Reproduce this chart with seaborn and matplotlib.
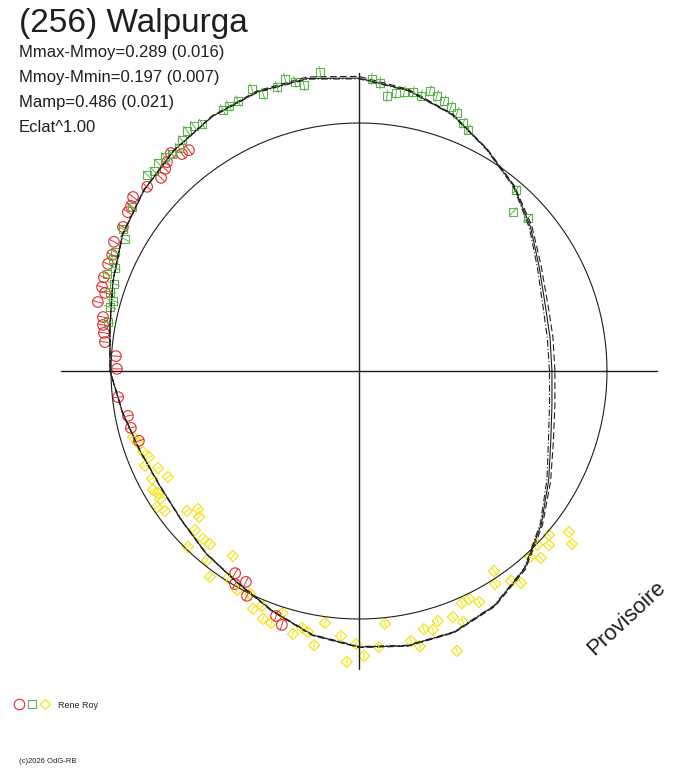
import numpy as np
import pandas as pd
import matplotlib
matplotlib.use('Agg')
import matplotlib.pyplot as plt
import seaborn as sns
from matplotlib.lines import Line2D
from matplotlib.legend_handler import HandlerTuple
from matplotlib.collections import LineCollection

# --- data : rotational phase (deg on the diagram) and relative flux (1 = mean) ---
fit_phase = list(range(0, 360, 10))
fit_solid = [0.778, 0.782, 0.798, 0.839, 0.903, 0.972, 1.032, 1.101, 1.149, 1.181, 1.198, 1.198,
             1.185, 1.161, 1.133, 1.101, 1.056, 1.020, 1.004, 0.968, 0.940, 0.927, 0.935, 0.960,
             0.984, 1.028, 1.081, 1.113, 1.125, 1.121, 1.093, 1.040, 0.960, 0.883, 0.823, 0.790]
fit_dashed = [0.790, 0.794, 0.809, 0.848, 0.910, 0.975, 1.034, 1.103, 1.153, 1.188, 1.204, 1.202,
              1.187, 1.162, 1.134, 1.102, 1.057, 1.021, 1.004, 0.969, 0.941, 0.928, 0.936, 0.961,
              0.985, 1.030, 1.083, 1.115, 1.127, 1.123, 1.096, 1.044, 0.966, 0.892, 0.834, 0.802]
fit_dashdot = [0.768, 0.771, 0.788, 0.831, 0.897, 0.969, 1.030, 1.099, 1.147, 1.178, 1.195, 1.196,
               1.184, 1.160, 1.132, 1.100, 1.055, 1.019, 1.003, 0.967, 0.939, 0.926, 0.934, 0.959,
               0.983, 1.027, 1.079, 1.111, 1.123, 1.119, 1.091, 1.037, 0.955, 0.875, 0.813, 0.780]

red_phase = [127.6, 129.2, 130.8, 132.6, 133.8, 135.7, 139.0, 142.4, 144.1, 145.5, 148.6, 152.2,
             154.8, 156.9, 159.8, 161.9, 162.9, 165.2, 168.1, 169.8, 171.5, 173.5, 176.5, 179.5,
             186.2, 191.0, 194.0, 197.6, 238.5, 239.8, 241.8, 243.5, 251.3, 253.1]
red_flux = [1.124, 1.129, 1.161, 1.144, 1.129, 1.115, 1.132, 1.150, 1.135, 1.131, 1.115, 1.117,
            1.100, 1.100, 1.096, 1.090, 1.071, 1.089, 1.055, 1.049, 1.040, 1.031, 0.982, 0.976,
            0.977, 0.949, 0.948, 0.931, 0.956, 0.994, 0.965, 1.013, 1.043, 1.070]

green_phase = [137.2, 135.7, 134.0, 132.2, 130.8, 128.9, 127.5, 125.6, 124.0, 122.4, 117.5, 116.1,
               114.1, 110.8, 109.1, 106.1, 104.2, 102.5, 100.9, 97.4, 144.2, 149.0, 150.6, 154.0,
               155.5, 157.1, 159.0, 160.4, 162.4, 164.1, 165.6, 169.0, 87.5, 85.8, 84.2, 82.4,
               80.8, 79.0, 77.3, 75.8, 74.2, 72.5, 70.8, 69.2, 67.2, 65.7, 49.1, 45.9, 42.2]
green_flux = [1.164, 1.155, 1.166, 1.165, 1.155, 1.156, 1.173, 1.191, 1.191, 1.180, 1.187, 1.190,
              1.193, 1.216, 1.182, 1.192, 1.215, 1.194, 1.174, 1.216, 1.129, 1.111, 1.083, 1.095,
              1.090, 1.068, 1.089, 1.048, 1.053, 1.031, 1.037, 1.031, 1.179, 1.164, 1.115, 1.131,
              1.140, 1.146, 1.137, 1.165, 1.153, 1.141, 1.127, 1.113, 1.084, 1.067, 0.966, 0.893, 0.919]

yellow_phase = [196.3, 200.6, 202.3, 203.9, 205.8, 209.0, 207.5, 210.0, 211.3, 212.7, 214.0, 215.8,
                219.1, 220.6, 222.4, 224.1, 227.1, 229.3, 225.8, 231.2, 235.7, 234.1, 237.7, 240.9,
                244.0, 246.0, 247.6, 248.8, 250.8, 252.4, 255.9, 257.5, 258.9, 260.7, 262.3, 266.1,
                267.6, 269.4, 271.0, 274.1, 275.9, 280.9, 282.5, 284.1, 285.9, 287.5, 290.9, 292.5,
                289.3, 293.9, 295.8, 297.5, 304.0, 302.6, 305.9, 307.4, 312.6, 314.2, 315.7, 319.2,
                317.5, 322.5, 320.9, 198.0]
yellow_flux = [0.949, 0.930, 0.915, 0.944, 0.900, 0.881, 0.941, 0.959, 0.948, 0.954, 0.982, 0.965,
               0.894, 0.855, 0.873, 0.921, 0.924, 0.921, 0.990, 0.978, 0.903, 1.025, 0.988, 1.011,
               1.001, 1.050, 1.025, 1.072, 1.076, 1.024, 1.093, 1.061, 1.072, 1.120, 1.025, 1.071,
               1.174, 1.101, 1.149, 1.116, 1.025, 1.109, 1.136, 1.073, 1.086, 1.057, 1.062, 1.096,
               1.196, 1.024, 1.021, 1.050, 0.973, 1.019, 1.045, 1.076, 1.019, 1.052, 1.004, 1.012,
               1.039, 1.067, 1.106, 0.937]

title = '(256) Walpurga'
stats_lines = ['Mmax-Mmoy=0.289 (0.016)', 'Mmoy-Mmin=0.197 (0.007)', 'Mamp=0.486 (0.021)', 'Eclat^1.00']
observer = 'Rene Roy'
copyright_txt = '(c)2026 OdG-RB'
stamp = 'Provisoire'

sns.set_theme(style='white')
plt.rcParams['font.family'] = ['Liberation Sans', 'DejaVu Sans']

RED, GREEN, YELLOW, INK = '#e42a2a', '#5cb548', '#f2e200', '#1e1e1e'


def to_xy(phase, flux):
    t = np.deg2rad(np.asarray(phase, dtype=float))
    r = np.asarray(flux, dtype=float)
    return r * np.cos(t), r * np.sin(t)


def session_df(phase, flux):
    x, y = to_xy(phase, flux)
    return pd.DataFrame({'phase': phase, 'flux': flux, 'x': x, 'y': y})


fig = plt.figure(figsize=(6.88, 7.68), dpi=100)
ax = fig.add_axes([0, 0, 1, 1])
ax.set_xlim(-359 / 248, 329 / 248)
ax.set_ylim(-397 / 248, 371 / 248)
ax.set_aspect('equal')
ax.axis('off')

# reference circle (mean flux) and the two axes
circ = np.linspace(0, 360, 361)
cx, cy = to_xy(circ, np.ones_like(circ))
ax.plot(cx, cy, color=INK, lw=0.8)
ax.plot([-1.2, 1.2], [0, 0], color=INK, lw=1.0)
ax.plot([0, 0], [-1.2, 1.2], color=INK, lw=1.0)

# model curves
for vals, ls in [(fit_solid, '-'), (fit_dashed, (0, (6, 3))), (fit_dashdot, (0, (6, 2, 1, 2)))]:
    fx, fy = to_xy(fit_phase + [360], vals + [vals[0]])
    sns.lineplot(x=fx, y=fy, sort=False, color=INK, lw=0.8, linestyle=ls, ax=ax, estimator=None)


def radial_bars(df, half, color):
    t = np.deg2rad(df['phase'].values)
    r0 = df['flux'].values - half
    r1 = df['flux'].values + half
    segs = [[(a * np.cos(tt), a * np.sin(tt)), (b * np.cos(tt), b * np.sin(tt))]
            for tt, a, b in zip(t, r0, r1)]
    ax.add_collection(LineCollection(segs, colors=color, linewidths=0.7))


sessions = [
    (session_df(yellow_phase, yellow_flux), YELLOW, 'D', 32, 0.014),
    (session_df(red_phase, red_flux), RED, 'o', 58, 0.022),
    (session_df(green_phase, green_flux), GREEN, 's', 32, 0.024),
]
for df, col, mk, size, eb in sessions:
    radial_bars(df, eb, col)
    sns.scatterplot(data=df, x='x', y='y', marker=mk, s=size, color=col,
                    facecolor='none', edgecolor=col, linewidth=0.8, ax=ax, legend=False)

# texts
fig.text(19 / 688, 1 - 32 / 768, title, fontsize=24, color=INK, va='baseline')
for i, line in enumerate(stats_lines):
    fig.text(19 / 688, 1 - (57.5 + 24.7 * i) / 768, line, fontsize=12, color=INK, va='baseline')
fig.text(626 / 688, 1 - 618 / 768, stamp, fontsize=16, rotation=43, color=INK,
         ha='center', va='center')
fig.text(19 / 688, 1 - 763 / 768, copyright_txt, fontsize=5.5, color=INK, va='baseline')

h_red = Line2D([], [], marker='o', ls='none', mfc='none', mec=RED, ms=7.6, mew=0.8)
h_green = Line2D([], [], marker='s', ls='none', mfc='none', mec=GREEN, ms=5.5, mew=0.8)
h_yellow = Line2D([], [], marker='D', ls='none', mfc='none', mec=YELLOW, ms=5.6, mew=0.8)
ax.legend([(h_red, h_green, h_yellow)], [observer],
          handler_map={tuple: HandlerTuple(ndivide=None, pad=0.2)},
          loc='center left', bbox_to_anchor=(14 / 688, 1 - 705 / 768),
          bbox_transform=fig.transFigure, frameon=False, fontsize=6.5,
          handlelength=4.0, handletextpad=0.9, borderpad=0, borderaxespad=0)

fig.savefig('out.png', dpi=100)
